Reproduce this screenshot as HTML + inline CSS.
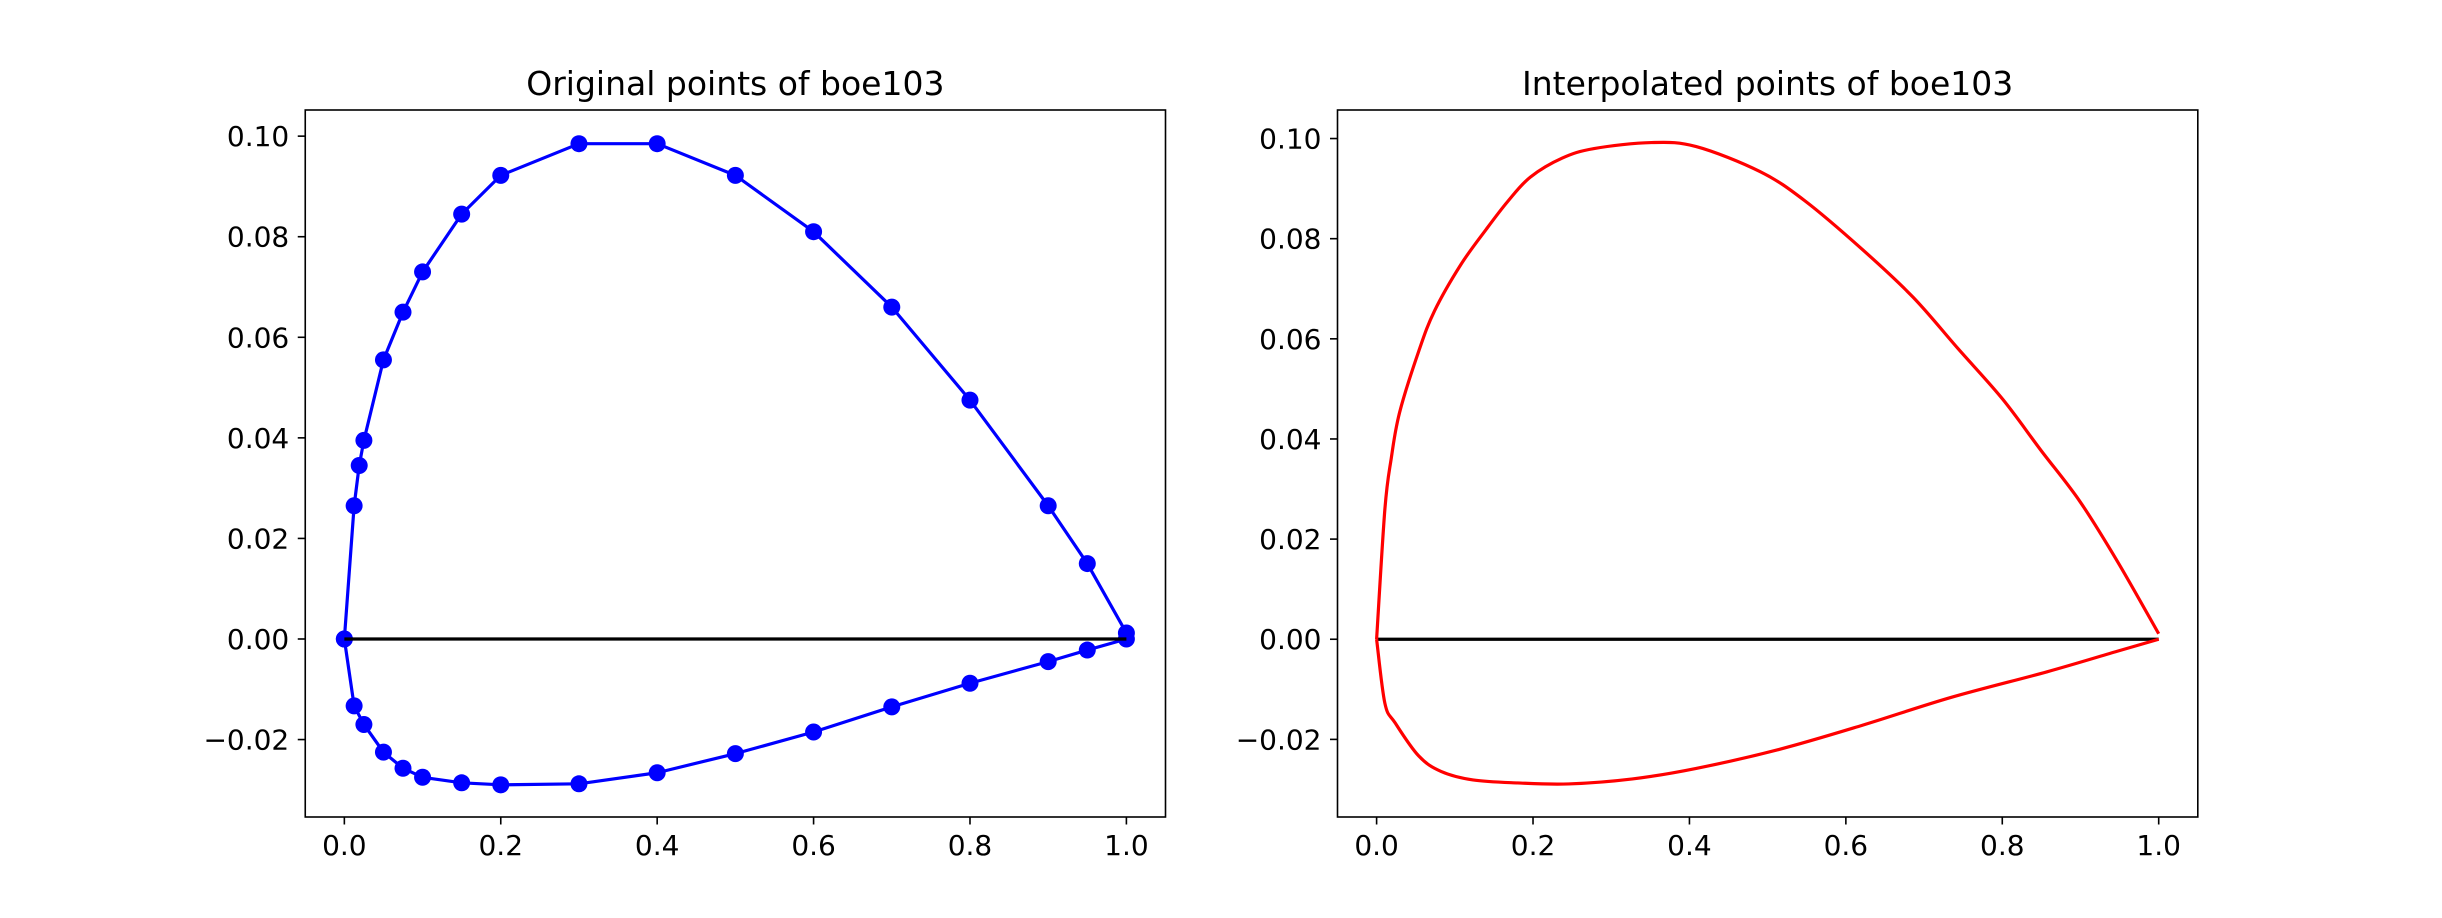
<!DOCTYPE html>
<html><head><meta charset="utf-8"><style>
html,body{margin:0;padding:0;background:#fff}
svg{display:block}
text{font-family:"DejaVu Sans","Liberation Sans",sans-serif;fill:#000}
</style></head><body>
<svg id="fig" width="2442" height="918" viewBox="0 0 2442 918" xmlns="http://www.w3.org/2000/svg"></svg>
<script>
// Original points (left)
const origUpperX = [0, 0.0125, 0.019, 0.025, 0.05, 0.075, 0.1, 0.15, 0.2, 0.3, 0.4, 0.5, 0.6, 0.7, 0.8, 0.9, 0.95, 1.0];
const origUpperY = [0, 0.0265, 0.0345, 0.0395, 0.0555, 0.065, 0.073, 0.0845, 0.0922, 0.0985, 0.0985, 0.0922, 0.081, 0.066, 0.0475, 0.0265, 0.015, 0.0012];
const origLowerX = [0, 0.0125, 0.025, 0.05, 0.075, 0.1, 0.15, 0.2, 0.3, 0.4, 0.5, 0.6, 0.7, 0.8, 0.9, 0.95, 1.0];
const origLowerY = [0, -0.0133, -0.017, -0.0225, -0.0257, -0.0275, -0.0286, -0.029, -0.0288, -0.0266, -0.0228, -0.0185, -0.0135, -0.0088, -0.0045, -0.0022, 0];
// Interpolated (right)
const interpUpperX = [0, 0.0106, 0.0188, 0.0294, 0.0538, 0.0741, 0.1076, 0.1403, 0.168, 0.1966, 0.2374, 0.2781, 0.3515, 0.4086, 0.4902, 0.5473, 0.6207, 0.686, 0.7431, 0.8002, 0.8491, 0.8989, 0.9478, 1.0];
const interpUpperY = [0, 0.026, 0.0362, 0.0453, 0.0575, 0.0656, 0.0748, 0.0819, 0.0875, 0.0923, 0.0961, 0.098, 0.0992, 0.0984, 0.0934, 0.0876, 0.0779, 0.0683, 0.0581, 0.048, 0.0378, 0.0276, 0.0154, 0.0011];
const interpLowerX = [0, 0.0106, 0.0237, 0.0538, 0.0824, 0.1232, 0.1803, 0.2455, 0.3271, 0.4086, 0.5147, 0.6207, 0.7349, 0.8573, 0.947, 1.0];
const interpLowerY = [0, -0.0128, -0.0167, -0.0233, -0.0264, -0.0281, -0.0287, -0.0289, -0.0279, -0.0258, -0.022, -0.0172, -0.0116, -0.0065, -0.0024, 0];
const xTicks = [0, 0.2, 0.4, 0.6, 0.8, 1.0];
const xTickLabels = ["0.0", "0.2", "0.4", "0.6", "0.8", "1.0"];
const yTicks = [-0.02, 0, 0.02, 0.04, 0.06, 0.08, 0.10];
const yTickLabels = ["\u22120.02", "0.00", "0.02", "0.04", "0.06", "0.08", "0.10"];

const NS = "http://www.w3.org/2000/svg";
const svg = document.getElementById('fig');
function mk(tag, attrs, parent) {
  const e = document.createElementNS(NS, tag);
  for (const k in attrs) e.setAttribute(k, attrs[k]);
  (parent || svg).appendChild(e);
  return e;
}
function panel(name, L, R, T, B, xmin, xmax, ymin, ymax, title, draw) {
  const g = mk('g', {});
  
  
  const sx = v => L + (v - xmin) / (xmax - xmin) * (R - L);
  const sy = v => B - (v - ymin) / (ymax - ymin) * (B - T);
  draw(g, sx, sy);
  const frame = mk('rect', {x: L, y: T, width: R - L, height: B - T, fill: 'none', stroke: '#000', 'stroke-width': 1.6}, g);
  
  
  xTicks.forEach((v, i) => {
    const x = sx(v);
    mk('line', {x1: x, y1: B, x2: x, y2: B + 7.5, stroke: '#000', 'stroke-width': 1.6}, g);
    const t = mk('text', {x: x, y: B + 38, 'font-size': 28, 'text-anchor': 'middle'}, g);
    t.textContent = xTickLabels[i];
    
    
  });
  yTicks.forEach((v, i) => {
    const y = sy(v);
    mk('line', {x1: L, y1: y, x2: L - 7.5, y2: y, stroke: '#000', 'stroke-width': 1.6}, g);
    const t = mk('text', {x: L - 16, y: y + 10, 'font-size': 28, 'text-anchor': 'end'}, g);
    t.textContent = yTickLabels[i];
    
    
  });
  const tt = mk('text', {x: (L + R) / 2, y: T - 15, 'font-size': 33, 'text-anchor': 'middle'}, g);
  tt.textContent = title;
  
  
}
function pathOf(xs, ys, sx, sy) {
  return xs.map((x, i) => (i ? 'L' : 'M') + sx(x).toFixed(2) + ' ' + sy(ys[i]).toFixed(2)).join(' ');
}
function smoothPath(xs, ys, sx, sy) {
  const P = xs.map((x, i) => [sx(x), sy(ys[i])]);
  let d = 'M' + P[0][0].toFixed(2) + ' ' + P[0][1].toFixed(2);
  for (let i = 0; i < P.length - 1; i++) {
    const p0 = P[Math.max(0, i - 1)], p1 = P[i], p2 = P[i + 1], p3 = P[Math.min(P.length - 1, i + 2)];
    const c1 = [p1[0] + (p2[0] - p0[0]) / 6, p1[1] + (p2[1] - p0[1]) / 6];
    const c2 = [p2[0] - (p3[0] - p1[0]) / 6, p2[1] - (p3[1] - p1[1]) / 6];
    d += ' C' + c1[0].toFixed(2) + ' ' + c1[1].toFixed(2) + ' ' + c2[0].toFixed(2) + ' ' + c2[1].toFixed(2) + ' ' + p2[0].toFixed(2) + ' ' + p2[1].toFixed(2);
  }
  return d;
}

panel('original-points-panel', 305.25, 1165.5, 110, 817, -0.05, 1.05, -0.0354, 0.1052, 'Original points of boe103', (g, sx, sy) => {
  [[origUpperX, origUpperY, 'upper-surface'], [origLowerX, origLowerY, 'lower-surface']].forEach(([xs, ys, n]) => {
    const p = mk('path', {d: pathOf(xs, ys, sx, sy), fill: 'none', stroke: '#0000ff', 'stroke-width': 3.2, 'stroke-linejoin': 'round'}, g);
    
    
    xs.forEach((x, i) => {
      const c = mk('circle', {cx: sx(x), cy: sy(ys[i]), r: 8.5, fill: '#0000ff'}, g);
      
      
    });
  });
  const cl = mk('line', {x1: sx(0), y1: sy(0), x2: sx(1), y2: sy(0), stroke: '#000', 'stroke-width': 3.2}, g);
  
  
});

panel('interpolated-points-panel', 1337.5, 2197.8, 110, 817, -0.05, 1.05, -0.0355, 0.1057, 'Interpolated points of boe103', (g, sx, sy) => {
  const cl = mk('line', {x1: sx(0), y1: sy(0), x2: sx(1), y2: sy(0), stroke: '#000', 'stroke-width': 3.2}, g);
  
  
  [[interpUpperX, interpUpperY, 'upper-surface'], [interpLowerX, interpLowerY, 'lower-surface']].forEach(([xs, ys, n]) => {
    const p = mk('path', {d: smoothPath(xs, ys, sx, sy), fill: 'none', stroke: '#ff0000', 'stroke-width': 3.2, 'stroke-linejoin': 'round'}, g);
    
    
  });
});
</script>
</body></html>
